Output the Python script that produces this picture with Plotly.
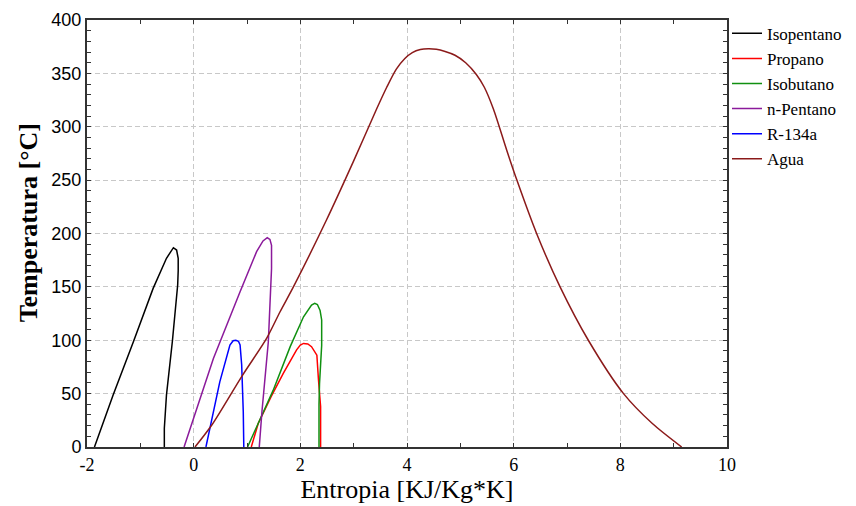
import plotly.graph_objects as go

# Entropy (kJ/kg*K) and temperature (°C) along each saturation dome
iso_s = [-1.86, -1.51, -1.13, -0.76, -0.51, -0.42, -0.38, -0.32, -0.29, -0.29, -0.30, -0.40, -0.51, -0.55, -0.55]
iso_t = [0, 48.7, 98.6, 148.6, 176.8, 184.5, 186.7, 184.5, 176.7, 165, 151.8, 98.6, 48.7, 17.5, 0]

prop_s = [1.08, 1.21, 1.45, 1.68, 1.93, 2.0, 2.06, 2.14, 2.21, 2.31, 2.34, 2.38, 2.38]
prop_t = [0, 22, 47, 69, 91, 95.5, 97, 96.5, 94, 86, 63, 38, 0]

isob_s = [1.01, 1.24, 1.49, 1.81, 2.06, 2.21, 2.27, 2.32, 2.37, 2.40, 2.40, 2.36, 2.35, 2.35]
isob_t = [0, 25, 53, 94, 122, 133, 134.6, 133.5, 128, 119, 95, 59.6, 40, 0]

npent_s = [-0.18, 0.37, 0.87, 1.18, 1.30, 1.38, 1.43, 1.46, 1.46, 1.40, 1.28, 1.23]
npent_t = [0, 83, 145.5, 183, 193, 196, 194.5, 189, 167, 98.6, 33, 0]

r134_s = [0.23, 0.49, 0.68, 0.74, 0.79, 0.84, 0.87, 0.90, 0.93, 0.94]
r134_t = [0, 61, 95.5, 99.5, 100, 99, 95.5, 77, 33, 0]

agua_s = [0.025, 0.34, 0.90, 1.37, 1.62, 1.87, 2.49, 3.0, 3.43, 3.62, 3.80, 3.96, 4.10, 4.25, 4.40, 4.55, 4.70,
          4.90, 5.10, 5.30, 5.45, 5.62, 5.87, 6.06, 6.43, 6.87, 7.40, 8.06, 8.60, 9.15]
agua_t = [0, 20.6, 66, 102, 126.7, 150, 212.6, 268, 316.6, 337, 354, 364, 369.5, 372.3, 373, 372.5, 370.8,
          367, 360, 349, 337, 316.6, 278, 250, 200, 150, 100, 50, 22, 0]

x_tickvals = [-2, 0, 2, 4, 6, 8, 10]
x_ticktext = ["-2", "0", "2", "4", "6", "8", "10"]

series = [
    ("Isopentano", iso_s, iso_t, "#000000", "linear"),
    ("Propano", prop_s, prop_t, "#ff0000", "linear"),
    ("Isobutano", isob_s, isob_t, "#109010", "linear"),
    ("n-Pentano", npent_s, npent_t, "#8b1a9b", "linear"),
    ("R-134a", r134_s, r134_t, "#0000ff", "linear"),
    ("Agua", agua_s, agua_t, "#8b1a1a", "spline"),
]

fig = go.Figure()
for name, s, t, c, shp in series:
    fig.add_trace(go.Scatter(x=s, y=t, mode="lines", name=name,
                             line=dict(color=c, width=1.5, shape=shp, smoothing=0.8)))

fig.update_layout(
    width=848, height=498,
    margin=dict(l=79, r=129, t=12, b=59, autoexpand=False),
    paper_bgcolor="white", plot_bgcolor="white",
    font=dict(family="Liberation Serif", color="black"),
    legend=dict(x=1.0, xanchor="left", y=1.01, yanchor="top",
                font=dict(family="Liberation Serif", size=17, color="black"),
                bgcolor="rgba(0,0,0,0)", borderwidth=0, tracegroupgap=0,
                itemwidth=30),
    showlegend=True,
    annotations=[dict(text="<b>Temperatura [°C]</b>", textangle=-90,
                      xref="paper", yref="paper", x=-0.092, y=0.524,
                      xanchor="center", yanchor="middle", showarrow=False,
                      font=dict(family="Liberation Serif", size=26, color="black"))],
)

fig.update_xaxes(
    range=[-2, 10], tickmode="array", tickvals=x_tickvals, ticktext=x_ticktext,
    automargin=False,
    showline=True, linecolor="#333333", linewidth=2, mirror="allticks",
    ticks="inside", ticklen=4, tickcolor="#333333",
    minor=dict(dtick=1, tick0=-2, ticks="inside", ticklen=4, tickcolor="#333333", showgrid=False),
    showgrid=True, gridcolor="#c8c8c8", griddash="5px,3px", gridwidth=1,
    zeroline=False,
    tickfont=dict(family="Liberation Serif", size=18, color="black"),
    title=dict(text="Entropia [KJ/Kg*K]", font=dict(family="Liberation Serif", size=26, color="black"),
               standoff=0),
)
fig.update_yaxes(
    range=[0, 400], dtick=50, automargin=False,
    showline=True, linecolor="#333333", linewidth=2, mirror="allticks",
    ticks="inside", ticklen=4, tickcolor="#333333",
    minor=dict(dtick=10, ticks="inside", ticklen=4, tickcolor="#333333", showgrid=False),
    showgrid=True, gridcolor="#c8c8c8", griddash="5px,3px", gridwidth=1,
    zeroline=False,
    tickfont=dict(family="Liberation Sans", size=18, color="black"),
)

fig.write_html("out.html")
